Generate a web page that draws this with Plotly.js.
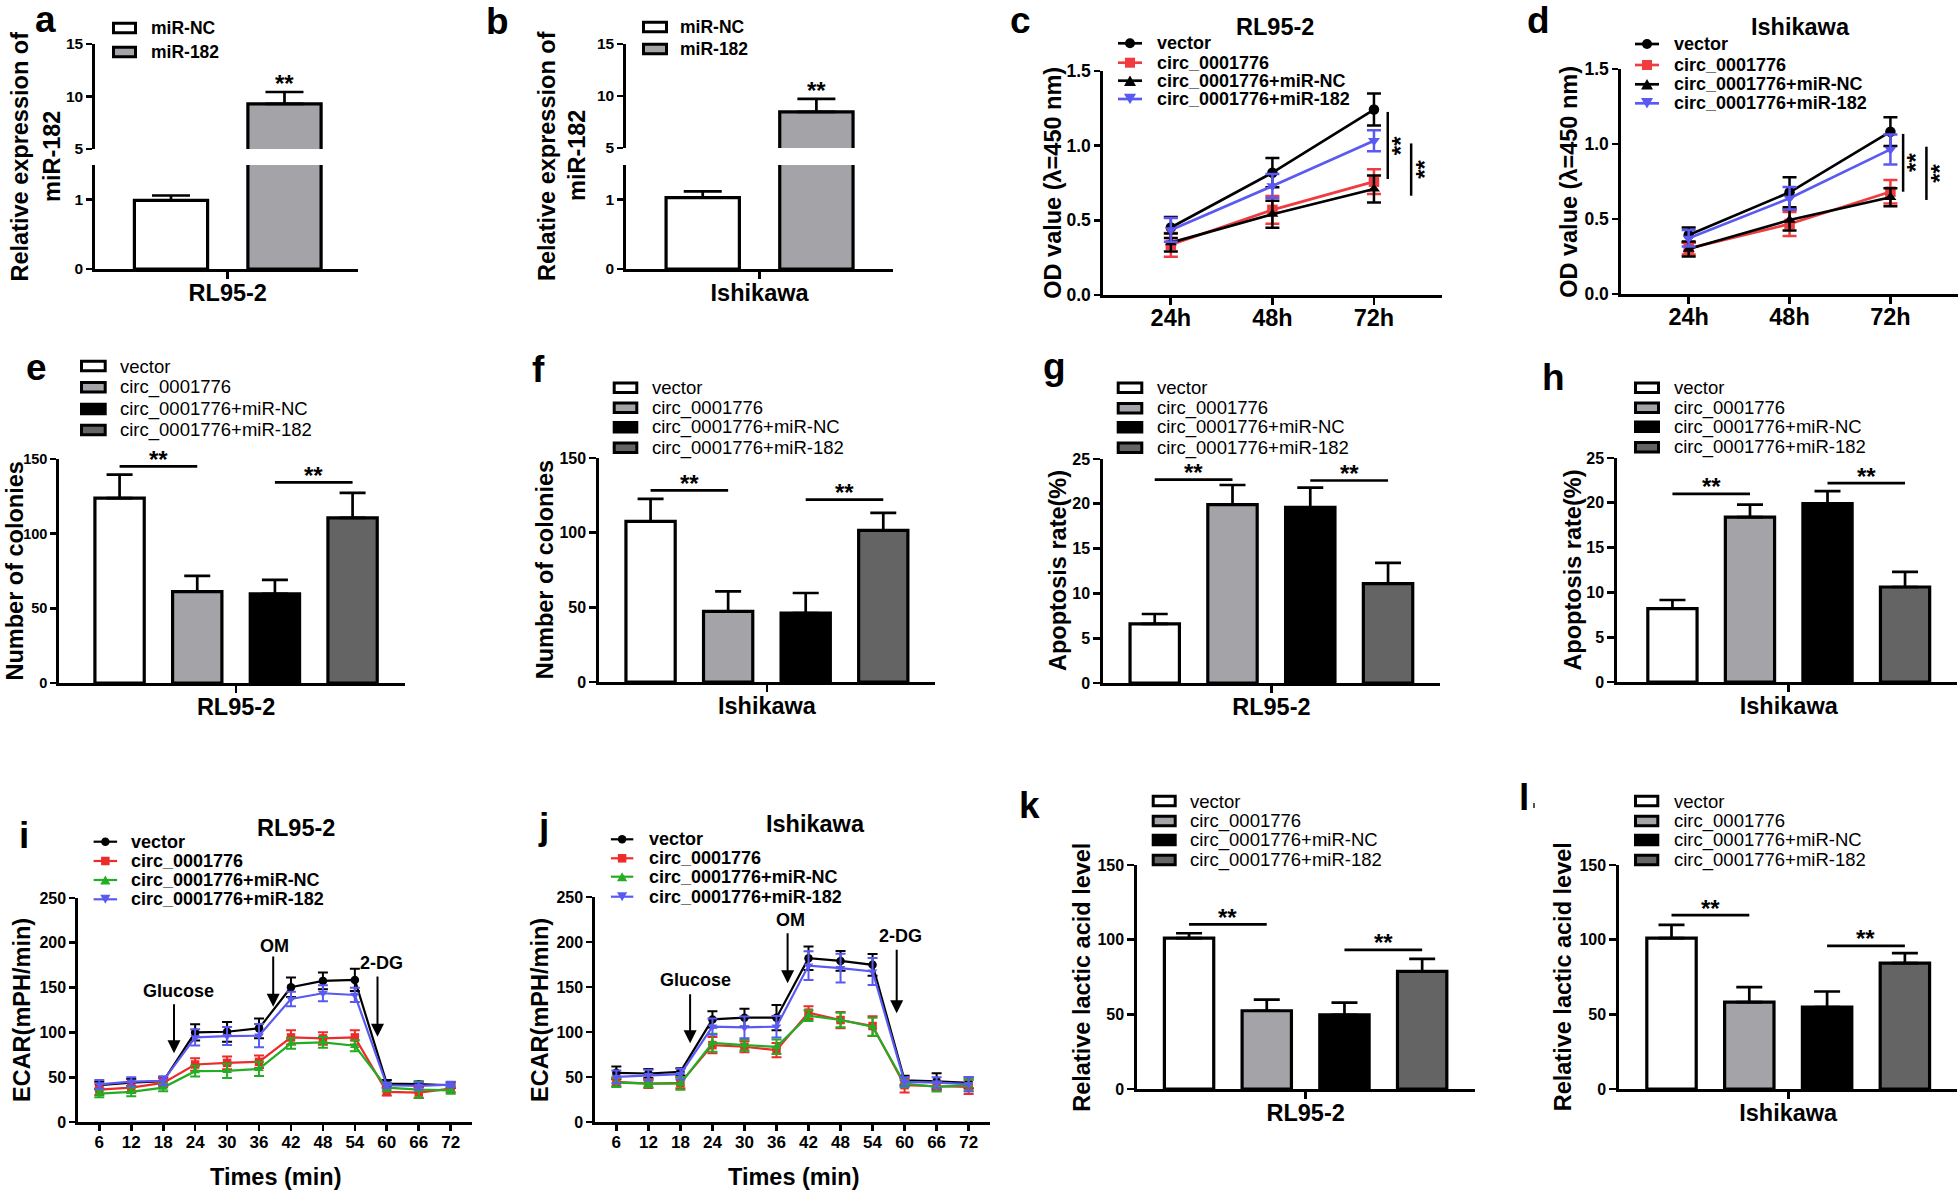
<!DOCTYPE html>
<html><head><meta charset="utf-8">
<script src="https://cdn.plot.ly/plotly-3.0.1.min.js"></script>
<style>
html,body{margin:0;padding:0;background:#ffffff;width:1958px;height:1190px;overflow:hidden;position:relative}
.pn{position:absolute;left:0;top:0;width:1958px;height:1190px}
</style>
</head><body>
<script>
// ===================== DATA =====================
const cellLines = ['RL95-2', 'Ishikawa'];
const mirGroups = ['miR-NC', 'miR-182'];
const a_mean = [0.99, 9.29];
const a_sd   = [0.07, 1.14];
const b_mean = [1.03, 8.47];
const b_sd   = [0.09, 1.26];
const ab_lowTicks = [0, 1];
const ab_upTicks  = [5, 10, 15];

const groups = ['vector', 'circ_0001776', 'circ_0001776+miR-NC', 'circ_0001776+miR-182'];

// CCK-8 (OD 450 nm)
const timeLabels = ['24h', '48h', '72h'];
const c_vector = [0.452, 0.819, 1.242]; const c_vector_sd = [0.07, 0.098, 0.107];
const c_circ   = [0.336, 0.570, 0.759]; const c_circ_sd   = [0.08, 0.093, 0.083];
const c_mirNC  = [0.351, 0.541, 0.710]; const c_mirNC_sd  = [0.06, 0.09, 0.09];
const c_mir182 = [0.436, 0.730, 1.033]; const c_mir182_sd = [0.08, 0.08, 0.07];
const d_vector = [0.393, 0.678, 1.082]; const d_vector_sd = [0.05, 0.10, 0.096];
const d_circ   = [0.304, 0.467, 0.682]; const d_circ_sd   = [0.04, 0.08, 0.078];
const d_mirNC  = [0.300, 0.493, 0.645]; const d_mirNC_sd  = [0.05, 0.07, 0.06];
const d_mir182 = [0.371, 0.638, 0.964]; const d_mir182_sd = [0.055, 0.075, 0.10];
const odTicks = [0, 0.5, 1.0, 1.5];
const c_sig = [[1.226, 0.777], [1.015, 0.665]];
const d_sig = [[1.067, 0.682], [0.982, 0.627]];

// Colony formation
const colonyTicks = [0, 50, 100, 150];
const e_mean = [123.8, 61.2, 59.7, 110.6]; const e_sd = [15.8, 10.5, 9.3, 16.7]; const e_sig = [145, 134.3];
const f_mean = [107.6, 47.3, 46.2, 101.5]; const f_sd = [15.0, 13.4, 13.4, 11.7]; const f_sig = [128.3, 122.1];

// Apoptosis
const apoTicks = [0, 5, 10, 15, 20, 25];
const g_mean = [6.6, 19.9, 19.6, 11.1];  const g_sd = [1.1, 2.2, 2.2, 2.3];  const g_sig = [22.7, 22.6];
const h_mean = [8.2, 18.4, 19.9, 10.6];  const h_sd = [0.95, 1.4, 1.4, 1.7]; const h_sig = [21.0, 22.2];

// ECAR
const timeMin = [6, 12, 18, 24, 30, 36, 42, 48, 54, 60, 66, 72];
const ecarTicks = [0, 50, 100, 150, 200, 250];
const i_vector = [41, 44, 45.5, 100, 100.7, 104.5, 150.4, 157.5, 158.6, 42.9, 42.2, 41];
const i_vector_sd = [4, 4, 4, 9, 11, 11, 11, 9.3, 12.4, 4, 3, 3];
const i_circ = [36.2, 38.4, 43.7, 64.2, 66, 67.2, 94.4, 93.3, 94.4, 33.6, 32.8, 37.3];
const i_circ_sd = [6, 6, 5, 7, 7, 7, 8, 7, 8, 4, 6, 4];
const i_mirNC = [31.7, 33.6, 38.4, 56.7, 57.1, 59.3, 87.7, 88.8, 85.1, 38.4, 36.2, 35.4];
const i_mirNC_sd = [4, 5, 4, 6, 8, 8, 6, 6, 6, 4, 9, 4];
const i_mir182 = [42, 45, 46, 94.4, 95.9, 96.3, 137.3, 143.7, 141.8, 41, 40.3, 41.8];
const i_mir182_sd = [5, 5, 5, 9, 10, 13, 8, 9, 8, 3, 4, 3];
const j_vector = [54.6, 53.9, 55.7, 114, 115.9, 115.9, 182, 179, 174.6, 46.4, 45.3, 43.5];
const j_vector_sd = [7, 5, 4, 9, 10, 14, 13, 11, 12, 5, 9, 6];
const j_circ = [44.6, 42.7, 43.5, 85.4, 83.6, 79.9, 121.5, 113.3, 106.6, 40.9, 39.7, 39];
const j_circ_sd = [5, 5, 6, 9, 6, 8, 7, 9, 11, 8, 5, 8];
const j_mirNC = [43.8, 42.7, 42.7, 88, 85.4, 83.6, 118.1, 113.3, 105.9, 42.7, 39, 40.9];
const j_mirNC_sd = [5, 4, 7, 10, 6, 8, 6, 8, 10, 4, 5, 6];
const j_mir182 = [50.1, 52, 53.1, 105.9, 105.1, 105.9, 173.8, 170.9, 167.2, 44.6, 43.8, 42];
const j_mir182_sd = [7, 6, 6, 9, 12, 12, 16, 16, 15, 5, 6, 8];
const treatments = ['Glucose', 'OM', '2-DG'];

// Lactic acid
const lacticTicks = [0, 50, 100, 150];
const k_mean = [101, 52.4, 49.7, 78.7]; const k_sd = [3.3, 7.4, 8.2, 8.5];   const k_sig = [110.3, 93.2];
const l_mean = [101, 58.2, 54.8, 84.3]; const l_sd = [8.9, 10, 10.5, 6.7];   const l_sig = [116.4, 95.8];

// ===================== STYLE =====================
const W = 1958, H = 1190;
const FONT = '"Liberation Sans", Arial, Helvetica, sans-serif';
const BAR2 = ['#ffffff', '#a3a3a8'];
const BAR4 = ['#ffffff', '#a3a3a8', '#000000', '#646464'];
const CD_COLORS = ['#000000', '#f03c40', '#000000', '#5a5af2'];
const IJ_COLORS = ['#000000', '#ee2a2a', '#22ae22', '#5a5af2'];
const SYMS = ['circle', 'square', 'triangle-up', 'triangle-down'];

function F(size, weight) { return {family: FONT, size: size, color: '#000000', weight: weight == null ? 700 : weight}; }

function ctxFor(b) {
  const box = {X0: Math.round(b.X0), X1: Math.round(b.X1), Y0: Math.round(b.Y0), Y1: Math.round(b.Y1)};
  const c = {box: box, ann: [], shapes: []};
  c.px = function (x) { return (x - box.X0) / (box.X1 - box.X0); };
  c.py = function (y) { return (box.Y1 - y) / (box.Y1 - box.Y0); };
  c.text = function (x, y, text, size, o) {
    o = o || {};
    c.ann.push({xref: 'paper', yref: 'paper', x: c.px(x), y: c.py(y), text: text, showarrow: false,
      font: F(size, o.weight), xanchor: o.xanchor || 'center', yanchor: 'middle', textangle: o.angle || 0, borderpad: 0});
  };
  c.marker = function (cx, cy, sym, s, color) {
    const r = s / 2;
    if (sym === 'circle' || sym === 'square') {
      c.shapes.push({type: sym === 'circle' ? 'circle' : 'rect', xref: 'paper', yref: 'paper',
        x0: c.px(cx - r), x1: c.px(cx + r), y0: c.py(cy + r), y1: c.py(cy - r), fillcolor: color, line: {width: 0}});
    } else {
      const up = sym === 'triangle-up' ? 1 : -1;
      const hw = r * 1.2, hh = r * 1.05;
      const pts = [[cx - hw, cy + up * hh], [cx + hw, cy + up * hh], [cx, cy - up * hh]];
      const path = 'M ' + pts.map(function (p) { return c.px(p[0]).toFixed(5) + ' ' + c.py(p[1]).toFixed(5); }).join(' L ') + ' Z';
      c.shapes.push({type: 'path', xref: 'paper', yref: 'paper', path: path, fillcolor: color, line: {width: 0}});
    }
  };
  c.barLegend = function (labels, colors, bx0, bx1, tx, rows, size, weight) {
    rows.forEach(function (yc, i) {
      c.shapes.push({type: 'rect', xref: 'paper', yref: 'paper', x0: c.px(bx0 + 1.5), x1: c.px(bx1 - 1.5),
        y0: c.py(yc + 4.8), y1: c.py(yc - 4.8), fillcolor: colors[i], line: {color: '#000000', width: 3}});
      c.text(tx, yc, labels[i], size, {xanchor: 'left', weight: weight});
    });
  };
  c.lineLegend = function (labels, colors, lx0, lx1, tx, rows, msize, lw, size) {
    rows.forEach(function (yc, i) {
      c.shapes.push({type: 'line', xref: 'paper', yref: 'paper', x0: c.px(lx0), x1: c.px(lx1), y0: c.py(yc), y1: c.py(yc),
        line: {color: colors[i], width: lw}});
      c.marker((lx0 + lx1) / 2, yc, SYMS[i], msize, colors[i]);
      c.text(tx, yc, labels[i], size, {xanchor: 'left'});
    });
  };
  return c;
}

function axis(o) {
  return Object.assign({showline: true, linecolor: '#000000', linewidth: 2.7, ticks: 'outside', ticklen: 7, tickwidth: 2.7,
    tickcolor: '#000000', showgrid: false, zeroline: false, fixedrange: true, automargin: false, tickfont: F(16)}, o);
}

function draw(c, traces, axes) {
  const d = document.createElement('div'); d.className = 'pn'; document.body.appendChild(d);
  const b = c.box;
  const layout = Object.assign({width: W, height: H,
    margin: {l: b.X0, r: W - b.X1, t: b.Y0, b: H - b.Y1, pad: 0, autoexpand: false},
    paper_bgcolor: 'rgba(0,0,0,0)', plot_bgcolor: 'rgba(0,0,0,0)', showlegend: false, barmode: 'overlay',
    hovermode: false, font: {family: FONT, color: '#000000'}, annotations: c.ann, shapes: c.shapes}, axes);
  Plotly.newPlot(d, traces, layout, {staticPlot: true, displayModeBar: false});
}

// ---------- panel a / b (broken y axis) ----------
function brokenPanel(p) {
  const c = ctxFor(p.box);
  const b = c.box, hgt = b.Y1 - b.Y0;
  const dl = (b.Y1 - p.lowTopPx) / hgt, du = (b.Y1 - p.upBotPx) / hgt;
  const xs = mirGroups.map(function (g, i) { return i; });
  const ln = {color: '#000000', width: 3.2};
  const eb = function (v) { return {type: 'data', symmetric: false, array: [v], arrayminus: [0], color: '#000000', thickness: 2.7, width: 19}; };
  const traces = [
    {type: 'bar', x: [xs[0]], y: [p.mean[0]], width: 0.645, xaxis: 'x', yaxis: 'y', marker: {color: BAR2[0], line: ln}, error_y: eb(p.sd[0])},
    {type: 'bar', x: [xs[1]], y: [p.mean[1]], width: 0.645, xaxis: 'x', yaxis: 'y', marker: {color: BAR2[1], line: ln}},
    {type: 'bar', x: [xs[1]], y: [p.mean[1]], width: 0.645, xaxis: 'x', yaxis: 'y2', marker: {color: BAR2[1], line: ln}, error_y: eb(p.sd[1])}
  ];
  c.ann.push({xref: 'x', yref: 'y2', x: xs[1], y: p.mean[1] + p.sd[1], yshift: 8, text: '**', showarrow: false, font: F(24), xanchor: 'center', yanchor: 'middle'});
  c.barLegend(mirGroups, BAR2, p.leg.bx0, p.leg.bx1, p.leg.tx, p.leg.rows, 17.5, 700);
  c.text(p.letter[1], p.letter[2], p.letter[0], 37);
  c.text(p.yt1[0], p.yt1[1], 'Relative expression of', 23.5, {angle: -90});
  c.text(p.yt2[0], p.yt2[1], 'miR-182', 23.5, {angle: -90});
  draw(c, traces, {
    xaxis: axis({range: p.xr, tickvals: [0.5], ticktext: [p.cell], tickfont: F(23.5), anchor: 'y', ticklabelstandoff: -6}),
    yaxis: axis({domain: [0, dl], range: [0, 1.5], tickvals: ab_lowTicks, tickfont: F(15.5), anchor: 'x', ticklen: 6}),
    yaxis2: axis({domain: [du, 1], range: [5, 15], tickvals: ab_upTicks, tickfont: F(15.5), anchor: 'x', ticklen: 6})
  });
}

// ---------- OD line panels (c / d) ----------
function odPanel(p) {
  const c = ctxFor(p.box);
  const xs = timeLabels.map(function (t, i) { return i; });
  const traces = p.series.map(function (s, i) {
    return {type: 'scatter', mode: 'lines+markers', x: xs, y: s.y, cliponaxis: false,
      line: {color: CD_COLORS[i], width: 2.7}, marker: {symbol: SYMS[i], size: 10.5, color: CD_COLORS[i]},
      error_y: {type: 'data', array: s.sd, color: CD_COLORS[i], thickness: 2.5, width: 7}};
  });
  const spacing = (c.box.X1 - c.box.X0) / (p.xr[1] - p.xr[0]);
  p.sig.forEach(function (sg, k) {
    const xd = xs[2] + p.sigOff[k] / spacing;
    c.shapes.push({type: 'line', xref: 'x', yref: 'y', x0: xd, x1: xd, y0: sg[0], y1: sg[1], line: {color: '#000000', width: 2.5}});
    c.ann.push({xref: 'x', yref: 'y', x: xd, y: (sg[0] + sg[1]) / 2, xshift: 13, text: '**', textangle: -90, showarrow: false,
      font: F(24), xanchor: 'center', yanchor: 'middle'});
  });
  c.lineLegend(groups, CD_COLORS, p.leg.lx0, p.leg.lx1, p.leg.tx, p.leg.rows, 10, 2.7, 18);
  c.text(p.title[1], p.title[2], p.title[0], 23.5);
  c.text(p.letter[1], p.letter[2], p.letter[0], 37);
  c.text(p.yt[0], p.yt[1], 'OD value (λ=450 nm)', 23.5, {angle: -90});
  draw(c, traces, {
    xaxis: axis({range: p.xr, tickvals: xs, ticktext: timeLabels, tickfont: F(23.5), ticklabelstandoff: -7}),
    yaxis: axis({range: [0, 1.5], tickvals: odTicks, tickformat: '.1f', tickfont: F(17.5), ticklen: 6})
  });
}

// ---------- four-bar panels ----------
function barPanel(p) {
  const c = ctxFor(p.box);
  const xs = groups.map(function (g, i) { return i; });
  const traces = [{type: 'bar', x: xs, y: p.mean, width: 0.635,
    marker: {color: BAR4, line: {color: '#000000', width: 3.2}},
    error_y: {type: 'data', symmetric: false, array: p.sd, arrayminus: p.sd.map(function () { return 0; }), color: '#000000', thickness: 2.7, width: 13}}];
  p.sig.forEach(function (s, k) {
    const i0 = xs[2 * k];
    c.shapes.push({type: 'line', xref: 'x', yref: 'y', x0: i0, x1: i0 + 1, y0: s, y1: s, line: {color: '#000000', width: 2.7}});
    c.ann.push({xref: 'x', yref: 'y', x: i0 + 0.5, y: s, yshift: 7, text: '**', showarrow: false, font: F(24), xanchor: 'center', yanchor: 'middle'});
  });
  c.barLegend(groups, BAR4, p.leg.bx0, p.leg.bx1, p.leg.tx, p.leg.rows, 18.5, 400);
  c.text(p.letter[1], p.letter[2], p.letter[0], 37);
  c.text(p.yt[0], p.yt[1], p.ytitle, 23.5, {angle: -90});
  if (p.extraMark) {
    c.shapes.push({type: 'line', xref: 'paper', yref: 'paper', x0: c.px(p.extraMark[0]), x1: c.px(p.extraMark[0]),
      y0: c.py(p.extraMark[1]), y1: c.py(p.extraMark[2]), line: {color: '#555555', width: 2}});
  }
  draw(c, traces, {
    xaxis: axis({range: p.xr, tickvals: [1.5], ticktext: [p.cell], tickfont: F(23.5), ticklabelstandoff: -6}),
    yaxis: axis({range: [p.yticks[0], p.yticks[p.yticks.length - 1]], tickvals: p.yticks, tickfont: F(p.tickSize || 16), ticklen: p.tickLen || 7})
  });
}

// ---------- ECAR panels (i / j) ----------
function ecarPanel(p) {
  const c = ctxFor(p.box);
  const traces = p.series.map(function (s, i) {
    return {type: 'scatter', mode: 'lines+markers', x: timeMin, y: s.y, cliponaxis: false,
      line: {color: IJ_COLORS[i], width: 2.2}, marker: {symbol: SYMS[i], size: 8.5, color: IJ_COLORS[i]},
      error_y: {type: 'data', array: s.sd, color: IJ_COLORS[i], thickness: 2, width: 5}};
  });
  p.arrows.forEach(function (a, k) {
    c.ann.push({xref: 'paper', yref: 'paper', x: c.px(a.x), y: c.py(a.tip), ax: 0, ay: -a.len, axref: 'pixel', ayref: 'pixel',
      text: '', showarrow: true, arrowhead: 2, arrowsize: 1.3, arrowwidth: 2, arrowcolor: '#000000', standoff: 0});
    c.text(a.lx, a.ly, treatments[k], 18);
  });
  c.lineLegend(groups, IJ_COLORS, p.leg.lx0, p.leg.lx1, p.leg.tx, p.leg.rows, 8.5, 2.2, 18);
  c.text(p.title[1], p.title[2], p.title[0], 23.5);
  c.text(p.letter[1], p.letter[2], p.letter[0], 37);
  c.text(p.yt[0], p.yt[1], 'ECAR(mPH/min)', 23.5, {angle: -90});
  c.text(p.xt[0], p.xt[1], 'Times (min)', 23.5);
  draw(c, traces, {
    xaxis: axis({range: [2, 76], tickvals: timeMin, tickfont: F(17), ticklen: 6, ticklabelstandoff: -3}),
    yaxis: axis({range: [0, 250], tickvals: ecarTicks, tickfont: F(16), ticklen: 6})
  });
}

// ===================== PANELS =====================
brokenPanel({box: {X0: 95, X1: 358, Y0: 44, Y1: 269}, lowTopPx: 165, upBotPx: 149, xr: [-0.6696, 1.6476],
  mean: a_mean, sd: a_sd, cell: cellLines[0],
  leg: {bx0: 112, bx1: 137, tx: 150, rows: [28, 52]}, letter: ['a', 45.5, 20], yt1: [19, 156.5], yt2: [51.5, 156.5]});
brokenPanel({box: {X0: 626, X1: 893, Y0: 44, Y1: 269}, lowTopPx: 165, upBotPx: 148, xr: [-0.675, 1.674],
  mean: b_mean, sd: b_sd, cell: cellLines[1],
  leg: {bx0: 642, bx1: 668, tx: 679, rows: [27, 49]}, letter: ['b', 497, 21], yt1: [547, 156], yt2: [577, 156]});

odPanel({box: {X0: 1102.6, X1: 1441.8, Y0: 70.7, Y1: 295.3}, xr: [-0.668, 2.67],
  series: [{y: c_vector, sd: c_vector_sd}, {y: c_circ, sd: c_circ_sd}, {y: c_mirNC, sd: c_mirNC_sd}, {y: c_mir182, sd: c_mir182_sd}],
  sig: c_sig, sigOff: [13.8, 37.2], title: [cellLines[0], 1274.8, 26.7], letter: ['c', 1020, 20.5], yt: [1052.7, 183],
  leg: {lx0: 1118, lx1: 1142, tx: 1156, rows: [43.3, 62.7, 80.7, 99]}});
odPanel({box: {X0: 1620.7, X1: 1957.5, Y0: 69, Y1: 294}, xr: [-0.671, 2.67],
  series: [{y: d_vector, sd: d_vector_sd}, {y: d_circ, sd: d_circ_sd}, {y: d_mirNC, sd: d_mirNC_sd}, {y: d_mir182, sd: d_mir182_sd}],
  sig: d_sig, sigOff: [12.7, 36], title: [cellLines[1], 1800.7, 26.7], letter: ['d', 1538, 21], yt: [1568.3, 181.5],
  leg: {lx0: 1635, lx1: 1659, tx: 1672.7, rows: [44, 65, 84.3, 103.3]}});

barPanel({box: {X0: 59.2, X1: 404.6, Y0: 458.7, Y1: 683.3}, xr: [-0.78, 3.675], mean: e_mean, sd: e_sd, sig: e_sig,
  yticks: colonyTicks, cell: cellLines[0], ytitle: 'Number of colonies', yt: [14.5, 571], letter: ['e', 36, 367],
  tickSize: 14.5, tickLen: 6,
  leg: {bx0: 80, bx1: 106.7, tx: 118.8, rows: [366, 387.3, 409, 430]}});
barPanel({box: {X0: 599.3, X1: 935, Y0: 458.3, Y1: 682.3}, xr: [-0.665, 3.667], mean: f_mean, sd: f_sd, sig: f_sig,
  yticks: colonyTicks, cell: cellLines[1], ytitle: 'Number of colonies', yt: [545, 570.3], letter: ['f', 538.3, 369],
  leg: {bx0: 612.7, bx1: 638.3, tx: 650.7, rows: [387.7, 407.7, 427.3, 447.7]}});
barPanel({box: {X0: 1103.3, X1: 1440, Y0: 459, Y1: 682.7}, xr: [-0.665, 3.668], mean: g_mean, sd: g_sd, sig: g_sig,
  yticks: apoTicks, cell: cellLines[0], ytitle: 'Apoptosis rate(%)', yt: [1058, 571], letter: ['g', 1054, 366],
  leg: {bx0: 1116.7, bx1: 1143.3, tx: 1156, rows: [387.7, 408.3, 427.3, 447.7]}});
barPanel({box: {X0: 1616.7, X1: 1957, Y0: 458.3, Y1: 682.3}, xr: [-0.715, 3.67], mean: h_mean, sd: h_sd, sig: h_sig,
  yticks: apoTicks, cell: cellLines[1], ytitle: 'Apoptosis rate(%)', yt: [1573.3, 570.3], letter: ['h', 1553, 377],
  leg: {bx0: 1634, bx1: 1660, tx: 1672.7, rows: [387.7, 407.7, 426.7, 447.3]}});

ecarPanel({box: {X0: 78, X1: 472, Y0: 898.3, Y1: 1121.7},
  series: [{y: i_vector, sd: i_vector_sd}, {y: i_circ, sd: i_circ_sd}, {y: i_mirNC, sd: i_mirNC_sd}, {y: i_mir182, sd: i_mir182_sd}],
  arrows: [{x: 174, tip: 1053.3, len: 50.6, lx: 178.6, ly: 991}, {x: 273.2, tip: 1006.7, len: 51.7, lx: 274.3, ly: 945.7},
           {x: 377.5, tip: 1036.7, len: 61.7, lx: 381.4, ly: 962.7}],
  title: [cellLines[0], 296.4, 828.3], letter: ['i', 24, 835], yt: [22, 1010], xt: [275, 1176.7],
  leg: {lx0: 93.6, lx1: 117.1, tx: 130.4, rows: [841.7, 861, 880, 899.3]}});
ecarPanel({box: {X0: 594.7, X1: 990.4, Y0: 897.3, Y1: 1121.7},
  series: [{y: j_vector, sd: j_vector_sd}, {y: j_circ, sd: j_circ_sd}, {y: j_mirNC, sd: j_mirNC_sd}, {y: j_mir182, sd: j_mir182_sd}],
  arrows: [{x: 690.1, tip: 1043.3, len: 50.6, lx: 695.3, ly: 980}, {x: 787.6, tip: 983.3, len: 51.6, lx: 790, ly: 920},
           {x: 896.7, tip: 1013.3, len: 65, lx: 900.9, ly: 936}],
  title: [cellLines[1], 815.8, 824.3], letter: ['j', 543, 826], yt: [540, 1010], xt: [793.4, 1176.7],
  leg: {lx0: 610.9, lx1: 633.3, tx: 648.1, rows: [839.3, 858.3, 876.7, 896.7]}});

barPanel({box: {X0: 1136.7, X1: 1475, Y0: 865, Y1: 1089.3}, xr: [-0.67, 3.68], mean: k_mean, sd: k_sd, sig: k_sig,
  yticks: lacticTicks, cell: cellLines[0], ytitle: 'Relative lactic acid level', yt: [1081.7, 977], letter: ['k', 1029, 805],
  leg: {bx0: 1151.7, bx1: 1176.7, tx: 1189.3, rows: [801, 821, 840, 860]}});
barPanel({box: {X0: 1619.3, X1: 1957, Y0: 865, Y1: 1089.3}, xr: [-0.675, 3.67], mean: l_mean, sd: l_sd, sig: l_sig,
  yticks: lacticTicks, cell: cellLines[1], ytitle: 'Relative lactic acid level', yt: [1563.3, 977], letter: ['l', 1524, 797],
  extraMark: [1534, 803, 808],
  leg: {bx0: 1634, bx1: 1659.3, tx: 1672.7, rows: [801, 821, 840, 860]}});
</script>
</body></html>
